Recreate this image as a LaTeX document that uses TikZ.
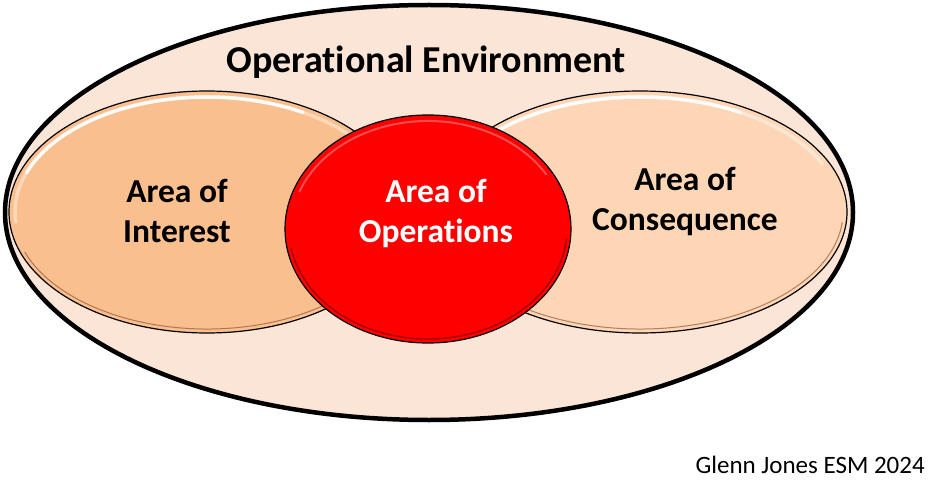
\documentclass[tikz,border=0pt]{standalone}
\usepackage{fontspec}
\setmainfont{Carlito}[Ligatures=NoCommon]
\usetikzlibrary{shapes.geometric}
\definecolor{envfill}{HTML}{FBE5D6}
\definecolor{aoifill}{HTML}{FABF8F}
\definecolor{aocfill}{HTML}{FDD6B6}
\definecolor{aofill}{HTML}{FF0000}
\definecolor{rimbrown}{HTML}{8C5A3C}
\definecolor{rimred}{HTML}{A80000}
\tikzset{area/.style={ellipse,draw=black,line width=1.2pt,inner sep=0pt},
    areatext/.style={font=\bfseries\fontsize{33.5}{39.5}\selectfont,align=center,anchor=base,inner sep=0pt},
    shine/.style={white,line width=3.5pt,line cap=round},
    rimline/.style={rimbrown,line width=1pt,opacity=0.7}}

\begin{document}
\begin{tikzpicture}[x=1pt,y=1pt]
        \useasboundingbox (0,0) rectangle (944,496);
        % operational environment
        \node[area,line width=4.5pt,fill=envfill,minimum width=848pt,minimum height=415pt] (env) at (429,283.5) {};
        % area of interest
        \node[area,fill=aoifill,minimum width=396pt,minimum height=242pt] (aoi) at (207,284) {};
        \draw[shine,opacity=0.4] (aoi.center) ++(185:192pt and 115pt) arc[start angle=185,end angle=35,x radius=192pt,y radius=115pt];
        \draw[shine,opacity=0.9] (aoi.center) ++(160:192pt and 115pt) arc[start angle=160,end angle=60,x radius=192pt,y radius=115pt];
        \draw[rimline] (aoi.center) ++(200:194pt and 117pt) arc[start angle=200,end angle=330,x radius=194pt,y radius=117pt];
        % area of consequence
        \node[area,fill=aocfill,minimum width=414pt,minimum height=242pt] (aoc) at (640,284) {};
        \draw[shine,opacity=0.4] (aoc.center) ++(175:201pt and 115pt) arc[start angle=175,end angle=25,x radius=201pt,y radius=115pt];
        \draw[shine,opacity=0.9] (aoc.center) ++(150:201pt and 115pt) arc[start angle=150,end angle=60,x radius=201pt,y radius=115pt];
        \draw[rimline] (aoc.center) ++(200:203pt and 117pt) arc[start angle=200,end angle=355,x radius=203pt,y radius=117pt];
        % area of operations
        \node[area,fill=aofill,minimum width=286pt,minimum height=228pt] (ao) at (428,267) {};
        \draw[white,line width=2pt,opacity=0.3] (ao.center) ++(160:137pt and 108pt) arc[start angle=160,end angle=30,x radius=137pt,y radius=108pt];
        \draw[rimred,line width=1.5pt] (ao.center) ++(190:139pt and 110pt) arc[start angle=190,end angle=355,x radius=139pt,y radius=110pt];
        % texts
        \node[font=\bfseries\fontsize{38}{46}\selectfont,anchor=base,inner sep=0pt] (envtext) at (426,423) {Operational Environment};
        \node[areatext] (aoitext) at (177,254) {Area of\\Interest};
        \node[areatext,white] (aotext) at (436,254) {Area of\\Operations};
        \node[areatext] (aoctext) at (685,266) {Area of\\Consequence};
        \node[font=\fontsize{25}{30}\selectfont,anchor=base east,inner sep=0pt] (credit) at (925,23) {Glenn Jones ESM 2024};
    \end{tikzpicture}
\end{document}
